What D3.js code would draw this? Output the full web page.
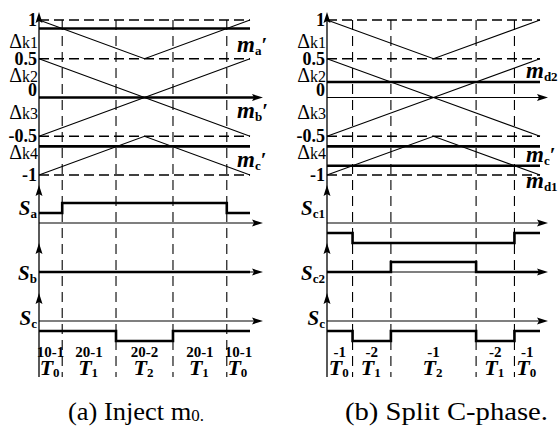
<html>
<head>
<meta charset="utf-8">
<title>Carrier / switching diagram</title>
<script src="https://d3js.org/d3.v7.min.js"></script>
</head>
<body style="margin:0;background:#fff">
<svg width="558" height="427"></svg>
<script>
// ---- data ----
var carrierT = [0, 0.5, 1];
var carrierTop = [1, 0.5, 1];
var carrierDown = [0.5, 0, -0.5];
var carrierUp = [-0.5, 0, 0.5];
var carrierBot = [-1, -0.5, -1];
var dashedLevels = [1, 0.5, -0.5, -1];
var tickValues = [1, 0.5, 0, -0.5, -1];
var tickLabels = ["1", "0.5", "0", "-0.5", "-1"];
var deltaValues = [0.72, 0.28, -0.2, -0.71];
var deltaLabels = ["k1", "k2", "k3", "k4"];

// panel (a)
var modsA = [0.89, 0, -0.63];
var modNamesA = ["a", "b", "c"];
var switchA = [0.11, 0.365, 0.635, 0.89];
var rowNamesA = ["a", "b", "c"];
var levelsA = [[1, 2, 2, 2, 1], [0, 0, 0, 0, 0], [-1, -1, -2, -1, -1]];
var statesA = ["10-1", "20-1", "20-2", "20-1", "10-1"];

// panel (b)
var modsB = [0.2, -0.63, -0.88];
var modNamesB = ["d2", "c", "d1"];
var switchB = [0.12, 0.3, 0.7, 0.88];
var rowNamesB = ["c1", "c2", "c"];
var levelsB = [[-1, -2, -2, -2, -1], [0, 0, 1, 0, 0], [-1, -2, -1, -2, -1]];
var statesB = ["-1", "-2", "-1", "-2", "-1"];

var periods = ["0", "1", "2", "1", "0"];

// ---- drawing ----
var svg = d3.select("svg");
var yTop = d3.scaleLinear().domain([-1, 1]).range([175, 20]);
var rowAxis = [223, 272, 321];

function arrowUp(g, x, y) {
  g.append("path").attr("d", `M${x},${y}L${x-3.5},${y+11}L${x},${y+9}L${x+3.5},${y+11}Z`);
}
function arrowRight(g, x, y) {
  g.append("path").attr("d", `M${x},${y}L${x-11},${y-3.5}L${x-9},${y}L${x-11},${y+3.5}Z`);
}

function drawPanel(p) {
  var g = svg.append("g");
  var x = d3.scaleLinear().domain([0, 1]).range([p.x0, p.x1]);

  // dashed horizontals
  g.selectAll(".hd").data(dashedLevels).enter().append("line")
    .attr("x1", p.x0).attr("x2", p.x1)
    .attr("y1", d => yTop(d)).attr("y2", d => yTop(d))
    .attr("stroke", "#000").attr("stroke-width", 1.4).attr("stroke-dasharray", "10,5");

  // dashed verticals at switching instants
  g.selectAll(".vd").data(p.sw).enter().append("line")
    .attr("x1", d => x(d)).attr("x2", d => x(d))
    .attr("y1", yTop(1)).attr("y2", 377)
    .attr("stroke", "#000").attr("stroke-width", 1.1).attr("stroke-dasharray", "10,6");

  // carriers
  var line = d3.line().x((d, i) => x(carrierT[i])).y(d => yTop(d));
  [carrierTop, carrierDown, carrierUp, carrierBot].forEach(function(c) {
    g.append("path").datum(c).attr("d", line)
      .attr("fill", "none").attr("stroke", "#000").attr("stroke-width", 1.1);
  });

  // zero axis
  g.append("line").attr("x1", p.x0).attr("x2", p.arrow - 6)
    .attr("y1", yTop(0)).attr("y2", yTop(0))
    .attr("stroke", "#000").attr("stroke-width", p.thickZero ? 2.6 : 1.2);
  arrowRight(g, p.arrow, yTop(0));

  // modulation waves
  g.selectAll(".mod").data(p.mods.filter(d => d !== 0)).enter().append("line")
    .attr("x1", p.x0).attr("x2", p.x1)
    .attr("y1", d => yTop(d)).attr("y2", d => yTop(d))
    .attr("stroke", "#000").attr("stroke-width", 2.6);

  // vertical axis
  g.append("line").attr("x1", p.x0).attr("x2", p.x0).attr("y1", 16).attr("y2", 377)
    .attr("stroke", "#000").attr("stroke-width", 1.3);
  arrowUp(g, p.x0, 12);
  [185, 243, 293].forEach(yy => arrowUp(g, p.x0, yy));

  // tick labels
  g.selectAll(".tk").data(tickValues).enter().append("text")
    .attr("x", p.x0 - 2).attr("y", d => yTop(d) + (d === 0 ? -2 : 6))
    .attr("text-anchor", "end").attr("font-weight", "bold").attr("font-size", 18)
    .text((d, i) => tickLabels[i]);
  var dl = g.selectAll(".dl").data(deltaValues).enter().append("text")
    .attr("x", p.x0 - 1).attr("y", d => yTop(d) + 6)
    .attr("text-anchor", "end").attr("font-size", 20);
  dl.append("tspan").text("Δ");
  dl.append("tspan").attr("font-size", 16).text((d, i) => deltaLabels[i]);

  // modulation labels
  p.mods.forEach(function(m, i) {
    var t = g.append("text").attr("x", p.labelX).attr("y", p.modLabelY[i])
      .attr("font-weight", "bold").attr("font-size", 23);
    t.append("tspan").attr("font-style", "italic").text("m");
    t.append("tspan").attr("font-size", 13).attr("dy", 3).text(p.modNames[i]);
    if (p.modNames[i].length === 1)
      t.append("tspan").attr("dy", -3).attr("font-size", 21).text("′");
  });

  // switching functions
  var bounds = [0].concat(p.sw);
  p.levels.forEach(function(lv, r) {
    var ay = rowAxis[r];
    var yl = d3.scaleLinear().domain([0, 1]).range([ay, ay - 10]);
    g.append("line").attr("x1", p.x0).attr("x2", p.arrow - 6)
      .attr("y1", ay).attr("y2", ay).attr("stroke", "#000").attr("stroke-width", 1.2);
    arrowRight(g, p.arrow, ay);
    var pts = bounds.map((b, i) => [b, lv[i]]).concat([[1, lv[lv.length - 1]]]);
    g.append("path").datum(pts)
      .attr("d", d3.line().x(d => x(d[0])).y(d => yl(d[1])).curve(d3.curveStepAfter))
      .attr("fill", "none").attr("stroke", "#000").attr("stroke-width", 2.6);
    var t = g.append("text").attr("x", p.x0 - 2).attr("y", ay + (r === 2 ? 4 : (r === 0 ? -8 : 8)))
      .attr("text-anchor", "end").attr("font-weight", "bold").attr("font-size", 21);
    t.append("tspan").attr("font-style", "italic").text("S");
    t.append("tspan").attr("font-size", 13).attr("dy", 3).text(p.rowNames[r]);
  });

  // interval labels
  var edges = bounds.concat([1]);
  var mids = d3.range(5).map(i => (edges[i] + edges[i + 1]) / 2);
  g.selectAll(".st").data(mids).enter().append("text")
    .attr("x", d => x(d)).attr("y", 357).attr("text-anchor", "middle")
    .attr("font-weight", "bold").attr("font-size", 15)
    .text((d, i) => p.states[i]);
  var tl = g.selectAll(".tl").data(mids).enter().append("text")
    .attr("x", d => x(d) - 1).attr("y", 375).attr("text-anchor", "middle")
    .attr("font-weight", "bold").attr("font-size", 22);
  tl.append("tspan").attr("font-style", "italic").text("T");
  tl.append("tspan").attr("font-size", 13).attr("dy", 2).text((d, i) => periods[i]);

  // caption
  var c = g.append("text").attr("x", p.capX).attr("y", 420)
    .attr("font-size", 25)
    .attr("textLength", p.capW).attr("lengthAdjust", "spacingAndGlyphs");
  p.caption.forEach(function(part) {
    var s = c.append("tspan").text(part.t);
    if (part.sub) s.attr("font-size", 16).attr("dy", 1);
  });
}

drawPanel({
  x0: 39, x1: 250, arrow: 263, thickZero: true, labelX: 237,
  mods: modsA, modNames: modNamesA, modLabelY: [52, 118, 167],
  sw: switchA, levels: levelsA, rowNames: rowNamesA, states: statesA,
  capX: 68, capW: 136, caption: [{t: "(a) Inject m"}, {t: "0.", sub: true}]
});
drawPanel({
  x0: 327, x1: 540, arrow: 548, thickZero: false, labelX: 526,
  mods: modsB, modNames: modNamesB, modLabelY: [78, 162, 188],
  sw: switchB, levels: levelsB, rowNames: rowNamesB, states: statesB,
  capX: 345, capW: 203, caption: [{t: "(b) Split C-phase."}]
});

svg.selectAll("text").style("font-family", '"Liberation Serif", "Times New Roman", serif').attr("fill", "#000");
</script>
</body>
</html>
